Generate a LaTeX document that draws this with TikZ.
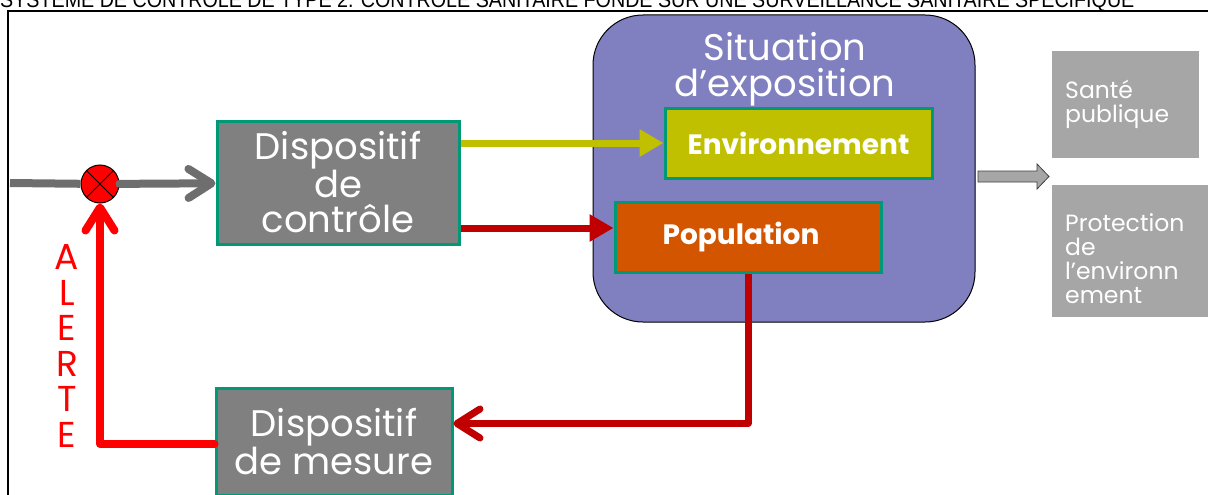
\documentclass[tikz,border=0pt]{standalone}
\usepackage{fontspec}
\setmainfont{Poppins}
\newfontfamily\titlefont[FakeStretch=0.895]{Liberation Sans}
\usetikzlibrary{arrows.meta}

\definecolor{boxgrey}{RGB}{128,128,128}
\definecolor{boxgreen}{RGB}{0,153,120}
\definecolor{linegrey}{RGB}{110,110,110}
\definecolor{sitblue}{RGB}{128,128,192}
\definecolor{envyellow}{RGB}{192,192,0}
\definecolor{poporange}{RGB}{212,85,0}
\definecolor{darkred}{RGB}{192,0,0}
\definecolor{alertred}{RGB}{255,0,0}
\definecolor{sidegrey}{RGB}{166,166,166}

\tikzset{
  chev/.tip={Straight Barb[length=23pt,width=29pt,round]},
  tri/.tip={Triangle[length=24pt,width=26pt]},
  block/.style={draw=boxgreen, line width=3pt, fill=boxgrey, text=white,
    align=center, inner sep=0pt, font=\fontsize{37}{35}\selectfont},
  inner/.style={draw=boxgreen, line width=3pt, text=white, inner sep=0pt,
    font=\bfseries\fontsize{28}{30}\selectfont},
  side/.style={fill=sidegrey, text=white, align=left, inner xsep=13pt,
    inner ysep=0pt, anchor=north west, font=\fontsize{23.5}{24}\selectfont},
  sidetext/.style={text=white, align=left, inner sep=0pt, anchor=west,
    font=\fontsize{23.5}{24}\selectfont},
  thick line/.style={line width=8pt, line cap=round, line join=round},
}

\begin{document}
\begin{tikzpicture}[x=1pt,y=-1pt]
\useasboundingbox (0,0) rectangle (1208,495);

% heading, cut by the upper edge of the page
\begin{scope}
  \clip (0,0) rectangle (1208,10);
  \node[anchor=base west, inner sep=0pt,
        font=\titlefont\fontsize{22}{22}\selectfont] (title) at (0,7.5)
    {SYSTEME DE CONTROLE DE TYPE 2. CONTROLE SANITAIRE FONDE SUR UNE SURVEILLANCE SANITAIRE SPECIFIQUE};
\end{scope}

% frame
\draw[line width=2.5pt] (8,497) -- (8,11) -- (1210,11);

% exposure situation
\node[draw=black, line width=1pt, fill=sitblue, rounded corners=50pt,
      minimum width=382pt, minimum height=307pt] (sit) at (784,168.5) {};
\node[text=white, align=center, inner sep=0pt,
      font=\fontsize{37}{36}\selectfont] (sittxt) at (785,69.5)
  {Situation\\d’exposition};
\node[inner, fill=envyellow, minimum width=267pt, minimum height=70pt]
  (env) at (798.5,143) {Environnement};
\node[inner, fill=poporange, minimum width=266pt, minimum height=70pt]
  (pop) at (748,237) {\hspace*{-14pt}Population};

% control and measurement devices
\node[block, minimum width=242pt, minimum height=123pt] (ctl) at (338,182.5)
  {Dispositif\\de\\contrôle};
\node[block, minimum width=236pt, minimum height=107pt] (mes) at (334,441.5)
  {Dispositif\\de mesure};

% summing junction
\node[circle, draw=black, line width=1pt, fill=alertred, minimum size=38pt,
      inner sep=0pt] (sum) at (100,184) {};
\draw[line width=0.8pt] (sum.north west) -- (sum.south east)
                        (sum.north east) -- (sum.south west);

% outcomes
\node[side, text width=121pt, minimum width=147pt, minimum height=107pt]
  (sante) at (1052,51) {Santé\\publique};
\node[side, minimum width=156pt, minimum height=132pt] (prot) at (1052,185) {};
\node[sidetext] (prottxt) at (1065,259) {Protection\\de\\l’environn\\ement};
\draw[fill=sidegrey, draw=black!75, line width=0.8pt]
  (978,171) -- (1037,171) -- (1037,164) -- (1049,176.5) -- (1037,189)
  -- (1037,182) -- (978,182) -- cycle;

% connectors
\coordinate (in) at (10,183);
\draw[thick line, linegrey, line cap=butt] (in) -- (sum);
\draw[thick line, linegrey, -chev] (sum) -- (ctl);

\draw[line width=7pt, envyellow, -tri] (ctl.east |- env.west) -- (env.west);
\coordinate (popin) at ([yshift=9pt]pop.west);
\draw[line width=7pt, darkred, -tri] (ctl.east |- popin) -- (popin);

\coordinate (mesin) at ([yshift=18pt]mes.east);
\draw[line width=7pt, line join=round, darkred, -chev] (pop.south) |- (mesin);

\coordinate (mesout) at ([yshift=-2.5pt]mes.west);
\draw[thick line, alertred, -chev] (mesout) -| (sum.south);

\node[text=alertred, align=center, inner sep=0pt,
      font=\fontsize{36}{35.6}\selectfont] (alerte) at (67,346)
  {A\\L\\E\\R\\T\\E};
\end{tikzpicture}
\end{document}
